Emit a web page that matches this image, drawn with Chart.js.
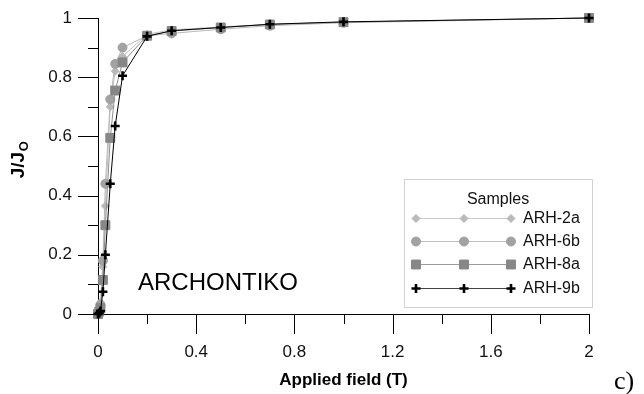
<!DOCTYPE html>
<html><head><meta charset="utf-8">
<script src="https://cdn.jsdelivr.net/npm/chart.js@4.4.0/dist/chart.umd.min.js"></script>
<style>html,body{margin:0;padding:0;background:#fff;}#wrap{width:644px;height:394px;}</style>
</head><body><div id="wrap"><canvas id="c" width="644" height="394"></canvas></div>
<script>
const fields = [0, 0.005, 0.01, 0.02, 0.03, 0.05, 0.07, 0.1, 0.2, 0.3, 0.5, 0.7, 1, 2];
const seriesNames = ['ARH-2a', 'ARH-6b', 'ARH-8a', 'ARH-9b'];
const arh2a = [0, 0.02, 0.04, 0.16, 0.365, 0.70, 0.82, 0.87, 0.945, 0.96, 0.97, 0.978, 0.986, 1];
const arh6b = [0, 0.01, 0.03, 0.18, 0.44, 0.725, 0.845, 0.90, 0.94, 0.948, 0.962, 0.974, 0.984, 1];
const arh8a = [0, 0.008, 0.02, 0.115, 0.30, 0.595, 0.755, 0.85, 0.94, 0.956, 0.968, 0.978, 0.986, 1];
const arh9b = [0, 0.003, 0.01, 0.075, 0.20, 0.44, 0.635, 0.805, 0.938, 0.957, 0.968, 0.979, 0.987, 1];
const xTickLabels = ['0', '0.4', '0.8', '1.2', '1.6', '2'];
const yTickLabels = ['0', '0.2', '0.4', '0.6', '0.8', '1'];
const xTitle = 'Applied field (T)';
const yTitleMain = 'J/J';
const yTitleSub = 'O';
const annotationText = 'ARCHONTIKO';
const legendTitle = 'Samples';
const panelLabel = 'c)';

const FONT = "'Liberation Sans', Arial, sans-serif";
const toPts = vals => fields.map((f, i) => ({x: f, y: vals[i]}));

const styles = [
  {pointStyle: 'rectRot', radius: 4, color: '#b9b9b9', line: '#c4c4c4', bw: 1, order: 4},
  {pointStyle: 'circle', radius: 4.5, color: '#a2a2a2', line: '#b8b8b8', bw: 1, order: 3},
  {pointStyle: 'rect', radius: 6.3, color: '#878787', line: '#8f8f8f', bw: 1, order: 2},
  {pointStyle: 'cross', radius: 4.5, color: '#000000', line: '#000000', bw: 2.6, order: 1}
];
const allVals = [arh2a, arh6b, arh8a, arh9b];

const datasets = seriesNames.map((name, i) => ({
  label: name,
  data: toPts(allVals[i]),
  borderColor: styles[i].line,
  borderWidth: 1,
  pointStyle: styles[i].pointStyle,
  pointRadius: styles[i].radius,
  pointBackgroundColor: styles[i].color,
  pointBorderColor: styles[i].color,
  pointBorderWidth: styles[i].bw,
  order: styles[i].order,
  tension: 0,
  fill: false,
  clip: false
}));

function isMajorY(v){ return Math.round(v * 10) % 2 === 0; }
function isMajorX(v){ return Math.round(v * 10) % 4 === 0; }

const extras = {
  id: 'extras',
  afterDraw(chart) {
    const ctx = chart.ctx, xs = chart.scales.x, ys = chart.scales.y, ca = chart.chartArea;
    ctx.save();
    ctx.strokeStyle = '#000'; ctx.lineWidth = 1;
    ys.ticks.forEach(t => {
      const y = Math.round(ys.getPixelForValue(t.value)) + 0.5;
      const len = isMajorY(t.value) ? 20 : 10;
      ctx.beginPath(); ctx.moveTo(ca.left - len, y); ctx.lineTo(ca.left, y); ctx.stroke();
    });
    xs.ticks.forEach(t => {
      const x = Math.round(xs.getPixelForValue(t.value)) + 0.5;
      const len = isMajorX(t.value) ? 20 : 10;
      ctx.beginPath(); ctx.moveTo(x, ca.bottom); ctx.lineTo(x, ca.bottom + len); ctx.stroke();
    });
    // y title with subscript
    ctx.fillStyle = '#000';
    ctx.translate(18, 160);
    ctx.rotate(-Math.PI / 2);
    ctx.font = 'bold 19px ' + FONT;
    const w1 = ctx.measureText(yTitleMain).width;
    ctx.font = 'bold 13px ' + FONT;
    const w2 = ctx.measureText(yTitleSub).width;
    const x0 = -(w1 + w2) / 2;
    ctx.textBaseline = 'alphabetic';
    ctx.font = 'bold 19px ' + FONT;
    ctx.fillText(yTitleMain, x0, 6);
    ctx.font = 'bold 13px ' + FONT;
    ctx.fillText(yTitleSub, x0 + w1 + 0.5, 10);
    ctx.setTransform(1, 0, 0, 1, 0, 0);
    // annotation
    ctx.font = '24px ' + FONT;
    ctx.textBaseline = 'alphabetic';
    ctx.textAlign = 'left';
    ctx.fillText(annotationText, 138, 290);
    // panel label
    ctx.font = "26px 'Liberation Serif', 'Times New Roman', serif";
    ctx.fillText(panelLabel, 614, 389);
    // legend
    ctx.fillStyle = '#fff';
    ctx.fillRect(404, 179, 188, 129);
    ctx.strokeStyle = '#d2d2d2';
    ctx.lineWidth = 1;
    ctx.strokeRect(404.5, 179.5, 188, 128);
    ctx.fillStyle = '#111';
    ctx.font = '16px ' + FONT;
    ctx.textAlign = 'center'; ctx.textBaseline = 'middle';
    ctx.fillText(legendTitle, 498, 200);
    const rows = [218, 241, 264, 288];
    const legLine = ['#c8c8c8', '#bdbdbd', '#9a9a9a', '#444444'];
    datasets.forEach((ds, i) => {
      const y = rows[i] + 0.5;
      ctx.strokeStyle = legLine[i]; ctx.lineWidth = 1.2;
      ctx.beginPath(); ctx.moveTo(416, y); ctx.lineTo(511, y); ctx.stroke();
      [416, 464, 511].forEach(px => {
        ctx.fillStyle = ds.pointBackgroundColor; ctx.strokeStyle = ds.pointBorderColor;
        ctx.lineWidth = ds.pointBorderWidth;
        Chart.helpers.drawPoint(ctx, {pointStyle: ds.pointStyle, radius: ds.pointRadius, rotation: 0, borderWidth: ds.pointBorderWidth}, px, y);
      });
      ctx.fillStyle = '#111';
      ctx.font = '16px ' + FONT;
      ctx.textAlign = 'left'; ctx.textBaseline = 'middle';
      ctx.fillText(ds.label, 523, rows[i] + 1);
    });
    ctx.restore();
  }
};

new Chart(document.getElementById('c'), {
  type: 'line',
  data: {datasets},
  options: {
    responsive: false,
    animation: false,
    events: [],
    layout: {padding: {left: 0, top: 18, right: 55, bottom: 0}},
    plugins: {legend: {display: false}, tooltip: {enabled: false}},
    scales: {
      x: {
        type: 'linear', min: 0, max: 2,
        afterFit(s) { s.height = 80; s.paddingLeft = 0; s.paddingRight = 0; },
        ticks: {
          stepSize: 0.2, autoSkip: false, maxRotation: 0, padding: 8,
          color: '#111', font: {family: FONT, size: 17},
          callback: (v) => isMajorX(v) ? xTickLabels[Math.round(v * 10) / 4] : ''
        },
        grid: {display: true, drawOnChartArea: false, drawTicks: true, tickLength: 20, tickColor: 'rgba(0,0,0,0)', color: 'rgba(0,0,0,0)'},
        border: {display: true, color: '#000', width: 1},
        title: {display: true, text: xTitle, color: '#000', font: {family: FONT, size: 17, weight: 'bold'}, padding: {top: 0, bottom: 3}}
      },
      y: {
        type: 'linear', min: 0, max: 1,
        afterFit(s) { s.width = 98; s.paddingTop = 0; s.paddingBottom = 0; },
        ticks: {
          stepSize: 0.1, autoSkip: false, padding: 6,
          color: '#111', font: {family: FONT, size: 17},
          callback: (v) => isMajorY(v) ? yTickLabels[Math.round(v * 10) / 2] : ''
        },
        grid: {display: true, drawOnChartArea: false, drawTicks: true, tickLength: 20, tickColor: 'rgba(0,0,0,0)', color: 'rgba(0,0,0,0)'},
        border: {display: true, color: '#000', width: 1}
      }
    }
  },
  plugins: [extras]
});
</script>
</body></html>
